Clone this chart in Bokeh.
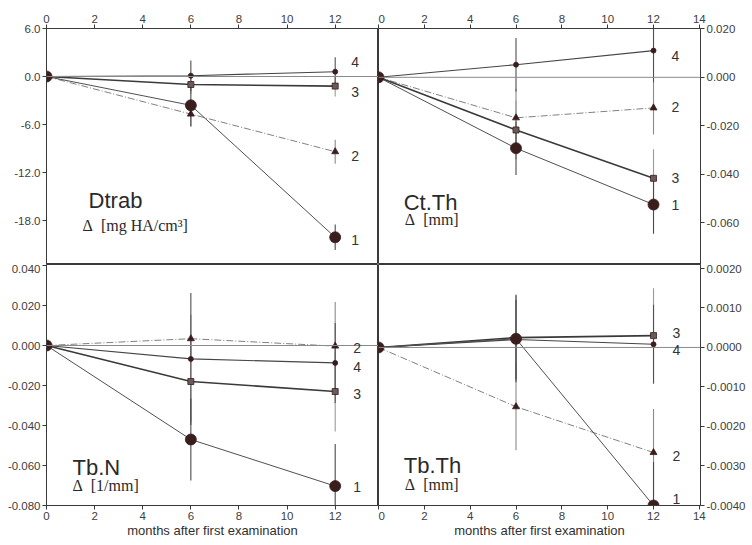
from bokeh.plotting import figure
from bokeh.layouts import column, row
from bokeh.models import FixedTicker, NumeralTickFormatter, Span, Label, Range1d
from bokeh.embed import file_html
from bokeh.resources import INLINE

months = [0, 6, 12]
x_ticks_left = [0, 2, 4, 6, 8, 10, 12]
x_ticks_right = [0, 2, 4, 6, 8, 10, 12, 14]
x_axis_title = "months after first examination"

# Dtrab  (Δ mg HA/cm3)
dtrab_ticks = [6.0, 0.0, -6.0, -12.0, -18.0]
dtrab_1 = [0.0, -3.6, -20.1]
dtrab_1_err = [0.0, 2.6, 1.6]
dtrab_2 = [0.0, -4.7, -9.4]
dtrab_2_err = [0.0, 1.6, 1.5]
dtrab_3 = [0.0, -1.0, -1.2]
dtrab_3_err = [0.0, 1.2, 1.3]
dtrab_4 = [0.0, 0.1, 0.6]
dtrab_4_err = [0.0, 1.9, 1.8]

# Ct.Th  (Δ mm)
cth_ticks = [0.020, 0.000, -0.020, -0.040, -0.060]
cth_1 = [0.0, -0.0292, -0.0524]
cth_1_err = [0.0, 0.011, 0.012]
cth_2 = [0.0, -0.0167, -0.0126]
cth_2_err = [0.0, 0.012, 0.011]
cth_3 = [0.0, -0.0217, -0.0416]
cth_3_err = [0.0, 0.012, 0.012]
cth_4 = [0.0, 0.0052, 0.0110]
cth_4_err = [0.0, 0.011, 0.013]

# Tb.N  (Δ 1/mm)
tbn_ticks = [0.040, 0.020, 0.000, -0.020, -0.040, -0.060, -0.080]
tbn_1 = [0.0, -0.047, -0.0703]
tbn_1_err = [0.0, 0.0205, 0.021]
tbn_2 = [0.0, 0.0034, -0.0003]
tbn_2_err = [0.0, 0.012, 0.022]
tbn_3 = [0.0, -0.018, -0.023]
tbn_3_err = [0.0, 0.020, 0.020]
tbn_4 = [0.0, -0.0067, -0.0087]
tbn_4_err = [0.0, 0.033, 0.020]

# Tb.Th  (Δ mm)
tbth_ticks = [0.0020, 0.0010, 0.0000, -0.0010, -0.0020, -0.0030, -0.0040]
tbth_1 = [0.0, 0.00022, -0.0040]
tbth_1_err = [0.0, 0.0011, 0.0011]
tbth_2 = [0.0, -0.0015, -0.00266]
tbth_2_err = [0.0, 0.0011, 0.0011]
tbth_3 = [0.0, 0.00025, 0.0003]
tbth_3_err = [0.0, 0.0011, 0.0012]
tbth_4 = [0.0, 0.0002, 0.00008]
tbth_4_err = [0.0, 0.0010, 0.0010]

SANS = "Liberation Sans"
SERIF = "Liberation Serif"
INK = "#3a1d1d"
AX = "#3a3a3a"
NB = "\u00a0"

STYLES = {
    1: dict(line_color="#505050", line_width=1.0, line_dash="solid",
            marker="circle", size=11, fill=INK, err="#4a4a4a"),
    2: dict(line_color="#808080", line_width=1.0, line_dash="7 2 1 2",
            marker="triangle", size=7, fill=INK, err="#8a8a8a"),
    3: dict(line_color="#3a3a3a", line_width=1.6, line_dash="solid",
            marker="square", size=6, fill="#6a5a5a", err="#9a9a9a"),
    4: dict(line_color="#454545", line_width=1.1, line_dash="solid",
            marker="circle", size=5, fill=INK, err="#505050"),
}


def panel(x_end, xticks, y_start, y_end, yticks, yfmt, yside, xside,
          width, height, borders, series, num_offsets,
          name, unit, name_xy, unit_xy, xlabel=None):
    p = figure(width=width, height=height, output_backend="svg",
               toolbar_location=None, title=None,
               x_range=Range1d(0, x_end), y_range=Range1d(y_start, y_end),
               x_axis_location=xside, y_axis_location=yside,
               min_border_left=borders[0], min_border_right=borders[1],
               min_border_top=borders[2], min_border_bottom=borders[3])
    p.grid.visible = False
    p.outline_line_color = AX
    p.outline_line_width = 1
    p.background_fill_color = "white"
    p.border_fill_color = "white"
    for ax in (p.xaxis[0], p.yaxis[0]):
        ax.axis_line_color = AX
        ax.major_tick_line_color = AX
        ax.minor_tick_line_color = None
        ax.major_tick_out = 4
        ax.major_tick_in = 0
        ax.major_label_standoff = 2
        ax.major_label_text_font = SANS
        ax.major_label_text_font_size = "11.5px"
        ax.major_label_text_color = "#404040"
    p.xaxis[0].ticker = FixedTicker(ticks=xticks)
    p.yaxis[0].ticker = FixedTicker(ticks=yticks)
    p.yaxis[0].formatter = NumeralTickFormatter(format=yfmt)
    if xlabel:
        p.xaxis[0].axis_label = xlabel
        p.xaxis[0].axis_label_text_font = SANS
        p.xaxis[0].axis_label_text_font_size = "13px"
        p.xaxis[0].axis_label_text_font_style = "normal"
        p.xaxis[0].axis_label_text_color = "#303030"
        p.xaxis[0].axis_label_standoff = 0

    p.add_layout(Span(location=0, dimension="width", line_color="#8a8a8a",
                      line_width=1))

    for k in (2, 3, 4, 1):
        vals, errs = series[k]
        st = STYLES[k]
        xs = [m for m, e in zip(months, errs) if e > 0]
        lo = [v - e for v, e in zip(vals, errs) if e > 0]
        hi = [v + e for v, e in zip(vals, errs) if e > 0]
        p.segment(x0=xs, y0=lo, x1=xs, y1=hi, line_color=st["err"],
                  line_width=1.1)
    for k in (2, 3, 4, 1):
        vals, errs = series[k]
        st = STYLES[k]
        p.line(months, vals, line_color=st["line_color"],
               line_width=st["line_width"], line_dash=st["line_dash"])
    for k in (2, 3, 4, 1):
        vals, errs = series[k]
        st = STYLES[k]
        p.scatter(months, vals, marker=st["marker"], size=st["size"],
                  fill_color=st["fill"], line_color=INK, line_width=0.8)

    for k in (1, 2, 3, 4):
        vals, _ = series[k]
        dx, dy = num_offsets[k]
        p.add_layout(Label(x=months[-1], y=vals[-1], x_offset=dx, y_offset=dy,
                           text=str(k), text_font=SANS,
                           text_font_size="14px", text_color="#333333",
                           text_align="center", text_baseline="middle"))

    p.add_layout(Label(x=name_xy[0], y=name_xy[1], text=name,
                       text_font=SANS, text_font_size="22px",
                       text_color="#2a2a2a", text_baseline="alphabetic"))
    p.add_layout(Label(x=unit_xy[0], y=unit_xy[1], text=unit,
                       text_font=SERIF, text_font_size="16px",
                       text_color="#2a2a2a", text_baseline="alphabetic"))
    return p


p1 = panel(13.8, x_ticks_left, -23.5, 6.0, dtrab_ticks, "0.0", "left", "above",
           378, 264, (46, 0, 28, 0),
           {1: (dtrab_1, dtrab_1_err), 2: (dtrab_2, dtrab_2_err),
            3: (dtrab_3, dtrab_3_err), 4: (dtrab_4, dtrab_4_err)},
           {1: (20, -3), 2: (20, -4), 3: (20, -6), 4: (20, 10)},
           "Dtrab", "Δ" + NB + NB + "[mg" + NB + "HA/cm³]", (1.75, -15.5), (1.5, -18.6))

p2 = panel(14.05, x_ticks_right, -0.0771, 0.0201, cth_ticks, "0.000", "right", "above",
           370, 264, (0, 48, 28, 0),
           {1: (cth_1, cth_1_err), 2: (cth_2, cth_2_err),
            3: (cth_3, cth_3_err), 4: (cth_4, cth_4_err)},
           {1: (22, 0), 2: (22, 1), 3: (22, 0), 4: (22, -5)},
           "Ct.Th", "Δ" + NB + NB + "[mm]", (1.1, -0.0514), (1.15, -0.0585))

p3 = panel(13.8, x_ticks_left, -0.080, 0.0405, tbn_ticks, "0.000", "left", "below",
           378, 277, (46, 0, 0, 36),
           {1: (tbn_1, tbn_1_err), 2: (tbn_2, tbn_2_err),
            3: (tbn_3, tbn_3_err), 4: (tbn_4, tbn_4_err)},
           {1: (22, -1), 2: (22, -2), 3: (22, -2), 4: (22, -4)},
           "Tb.N", "Δ" + NB + NB + "[1/mm]", (1.08, -0.0608), (1.08, -0.0702),
           xlabel=x_axis_title)

p4 = panel(14.05, x_ticks_right, -0.0040, 0.0021, tbth_ticks, "0.0000", "right", "below",
           370, 277, (0, 48, 0, 36),
           {1: (tbth_1, tbth_1_err), 2: (tbth_2, tbth_2_err),
            3: (tbth_3, tbth_3_err), 4: (tbth_4, tbth_4_err)},
           {1: (23, 7), 2: (23, -3), 3: (23, 3), 4: (23, -6)},
           "Tb.Th", "Δ" + NB + NB + "[mm]", (1.1, -0.0030), (1.15, -0.00348),
           xlabel=x_axis_title)

layout = column(row(p1, p2, spacing=0), row(p3, p4, spacing=0), spacing=0)

open("out.html", "w").write(file_html(layout, INLINE))
